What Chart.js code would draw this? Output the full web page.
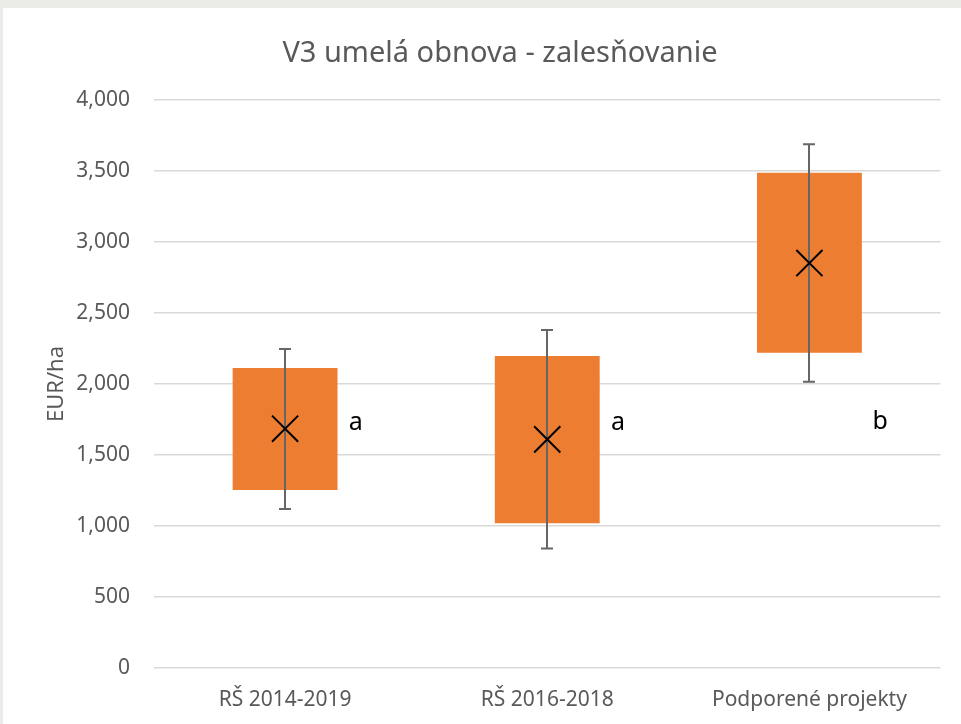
<!DOCTYPE html>
<html>
<head>
<meta charset="utf-8">
<script src="https://cdn.jsdelivr.net/npm/chart.js@4"></script>
<style>
  html, body { margin: 0; padding: 0; background: #ebebe8; }
  #wrap { position: absolute; left: 3px; top: 8px; width: 958px; height: 716px; background: #fff; }
</style>
</head>
<body>
<div id="wrap"><canvas id="myChart" width="958" height="716"></canvas></div>
<script>
var chartTitle = "V3 umelá obnova - zalesňovanie";
var categories = ["RŠ 2014-2019", "RŠ 2016-2018", "Podporené projekty"];
var boxLow = [1254, 1019, 2220];
var boxHigh = [2113, 2197, 3488];
var whiskerLow = [1120, 841, 2016];
var whiskerHigh = [2246, 2380, 3688];
var means = [1685, 1610, 2852];
var letters = ["a", "a", "b"];
var letterY = [1725, 1725, 1735];
var yTicks = [0, 500, 1000, 1500, 2000, 2500, 3000, 3500, 4000];

var FONT = "'Noto Sans', sans-serif";
var boxes = boxLow.map(function (v, i) { return [v, boxHigh[i]]; });

// whiskers go right after the bars, letters and title on top
var extras = {
  id: "extras",
  afterDatasetDraw: function (chart, args) {
    if (args.index !== 0) return;
    var ctx = chart.ctx, x = chart.scales.x, y = chart.scales.y;
    ctx.save();
    ctx.strokeStyle = "#666666";
    ctx.lineWidth = 2;
    whiskerLow.forEach(function (lo, i) {
      var px = Math.round(x.getPixelForValue(i));
      var top = y.getPixelForValue(whiskerHigh[i]);
      var bot = y.getPixelForValue(lo);
      ctx.beginPath();
      ctx.moveTo(px, top); ctx.lineTo(px, bot);
      ctx.moveTo(px - 6, top); ctx.lineTo(px + 6, top);
      ctx.moveTo(px - 6, bot); ctx.lineTo(px + 6, bot);
      ctx.stroke();
    });
    ctx.restore();
  },
  afterDatasetsDraw: function (chart) {
    var ctx = chart.ctx, x = chart.scales.x, y = chart.scales.y;
    var step = x.getPixelForValue(1) - x.getPixelForValue(0);
    ctx.save();
    ctx.fillStyle = "#000";
    ctx.font = "25px " + FONT;
    ctx.textAlign = "center";
    ctx.textBaseline = "middle";
    letters.forEach(function (t, i) {
      ctx.fillText(t, x.getPixelForValue(i) + step * 0.27, y.getPixelForValue(letterY[i]));
    });
    ctx.fillStyle = "#595959";
    ctx.font = "29px " + FONT;
    ctx.fillText(chartTitle, 497, 46);
    ctx.restore();
  }
};

new Chart("myChart", {
  type: "bar",
  data: {
    labels: categories,
    datasets: [
      {
        data: boxes,
        backgroundColor: "#ED7D31",
        borderWidth: 0,
        categoryPercentage: 1,
        barPercentage: 0.4,
        order: 2
      },
      {
        type: "line",
        data: means,
        showLine: false,
        pointStyle: "crossRot",
        pointRadius: 18.5,
        pointBorderColor: "#000",
        pointBorderWidth: 2,
        order: 1
      }
    ]
  },
  plugins: [extras],
  options: {
    responsive: false,
    animation: false,
    layout: { padding: { left: 25, right: 19, top: 92, bottom: 0 } },
    plugins: {
      legend: { display: false },
      tooltip: { enabled: false },
      title: { display: false }
    },
    scales: {
      x: {
        grid: { display: false, drawTicks: false },
        border: { display: false },
        ticks: { color: "#595959", font: { family: FONT, size: 21 }, padding: 19 },
        afterFit: function (axis) { axis.height = 56; }
      },
      y: {
        min: 0,
        max: 4000,
        afterBuildTicks: function (axis) {
          axis.ticks = yTicks.map(function (v) { return { value: v }; });
        },
        grid: { color: "#d9d9d9", lineWidth: 1.5, drawTicks: false },
        border: { display: false },
        ticks: {
          color: "#595959",
          font: { family: FONT, size: 21 },
          padding: 24,
          callback: function (v) { return v.toLocaleString("en-US"); }
        },
        title: {
          display: true,
          text: "EUR/ha",
          color: "#595959",
          font: { family: FONT, size: 22 },
          padding: { top: 16, bottom: 15 }
        },
        afterFit: function (axis) { axis.width = 126; }
      }
    }
  }
});
</script>
</body>
</html>
